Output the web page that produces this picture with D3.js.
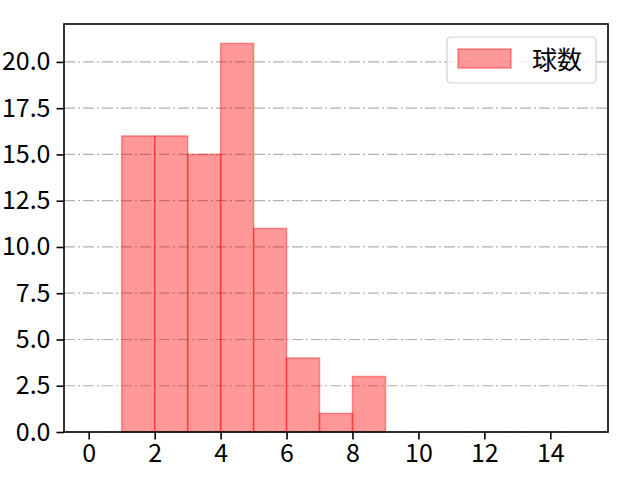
<!DOCTYPE html>
<html>
<head>
<meta charset="utf-8">
<script src="https://cdn.jsdelivr.net/npm/d3@7"></script>
<style>
  body { margin: 0; background: #fff; }
  text { font-family: "Noto Sans CJK JP", "Noto Sans", sans-serif; }
</style>
</head>
<body>
<div id="chart"></div>
<script>
// histogram data: bins [binStart, binStart+1)
const binStarts = [1, 2, 3, 4, 5, 6, 7, 8];
const counts = [16, 16, 15, 21, 11, 4, 1, 3];
const xTicks = [0, 2, 4, 6, 8, 10, 12, 14];
const yTicks = [0, 2.5, 5, 7.5, 10, 12.5, 15, 17.5, 20];
const seriesName = '球数';

const W = 640, H = 480;
const margin = { left: 64, right: 32, top: 24, bot: 48 };

const svg = d3.select('#chart').append('svg')
    .attr('width', W).attr('height', H);

const x = d3.scaleLinear().domain([-0.75, 15.75]).range([margin.left, W - margin.right]);
const y = d3.scaleLinear().domain([0, 22.05]).range([H - margin.bot, margin.top]);

// grid
svg.append('g').selectAll('line').data(yTicks).join('line')
    .attr('x1', x.range()[0]).attr('x2', x.range()[1])
    .attr('y1', d => y(d)).attr('y2', d => y(d))
    .attr('stroke', '#b0b0b0').attr('stroke-width', 1.2)
    .attr('stroke-dasharray', '11,3,2,3');

// bars
svg.append('g').selectAll('rect').data(binStarts).join('rect')
    .attr('x', d => x(d))
    .attr('width', d => x(d + 1) - x(d))
    .attr('y', (d, i) => y(counts[i]))
    .attr('height', (d, i) => y(0) - y(counts[i]))
    .attr('fill', 'rgba(255,0,0,0.4)')
    .attr('stroke', 'rgba(255,0,0,0.4)')
    .attr('stroke-width', 1.5);

// axes
const xAxis = svg.append('g')
    .attr('transform', `translate(0,${y(0)})`)
    .call(d3.axisBottom(x).tickValues(xTicks).tickSize(7.5).tickPadding(5));
const yAxis = svg.append('g')
    .attr('transform', `translate(${x.range()[0]},0)`)
    .call(d3.axisLeft(y).tickValues(yTicks).tickFormat(d3.format('.1f')).tickSize(7.5).tickPadding(6));

[xAxis, yAxis].forEach(a => {
    a.select('.domain').remove();
    a.selectAll('.tick line').attr('stroke', '#000').attr('stroke-width', 1.6);
    a.selectAll('.tick text').attr('fill', '#000')
        .style('font-family', '"Noto Sans CJK JP", sans-serif')
        .style('font-size', '25px');
});

// frame
svg.append('rect')
    .attr('x', x.range()[0]).attr('y', y.range()[1])
    .attr('width', x.range()[1] - x.range()[0])
    .attr('height', y.range()[0] - y.range()[1])
    .attr('fill', 'none').attr('stroke', '#000').attr('stroke-width', 1.6);

// legend
const lg = svg.append('g').attr('transform', 'translate(447,37)');
lg.append('rect')
    .attr('width', 149).attr('height', 46).attr('rx', 4)
    .attr('fill', 'rgba(255,255,255,0.8)')
    .attr('stroke', '#d0d0d0').attr('stroke-width', 1.2);
lg.append('rect')
    .attr('x', 11).attr('y', 12).attr('width', 53).attr('height', 19)
    .attr('fill', 'rgba(255,0,0,0.4)')
    .attr('stroke', 'rgba(255,0,0,0.4)').attr('stroke-width', 1.5);
lg.append('text')
    .attr('x', 85).attr('y', 32)
    .style('font-size', '25px')
    .text(seriesName);
</script>
</body>
</html>
